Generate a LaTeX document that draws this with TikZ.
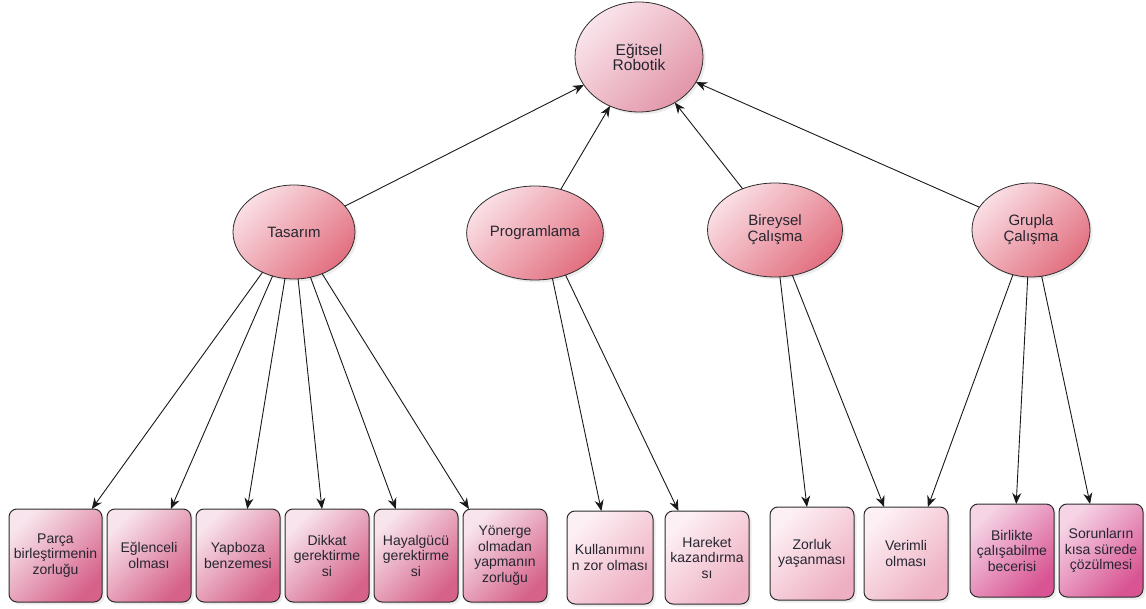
\documentclass[tikz,border=0pt]{standalone}
\usepackage{fontspec}
\setmainfont{Liberation Sans}
\usepackage{tikz}
\usetikzlibrary{positioning}
\usetikzlibrary{shapes.geometric,arrows.meta,calc,shadows}
\newcommand{\leafwidth}{84pt}
\newcommand{\leafheight}{93pt}
\newcommand{\topicheight}{94pt}
\definecolor{inkdark}{RGB}{38,38,48}
\definecolor{edgegray}{RGB}{45,45,45}
\definecolor{rootlight}{RGB}{250,228,235}
\definecolor{rootdark}{RGB}{226,150,168}
\definecolor{elllight}{RGB}{250,222,228}
\definecolor{elldark}{RGB}{226,112,128}
\definecolor{leaflight}{RGB}{248,228,236}
\definecolor{leafdark}{RGB}{214,98,138}
\definecolor{palelight}{RGB}{253,240,244}
\definecolor{paledark}{RGB}{238,175,194}
\definecolor{teamlight}{RGB}{246,212,230}
\definecolor{teamdark}{RGB}{216,84,146}

\begin{document}
\begin{tikzpicture}[x=1pt, y=-1pt, node distance=5pt, outer sep=0pt]
\tikzstyle{rootell}=[
    draw=edgegray,
    ellipse,
    line width=0.8pt,
    minimum width=128pt,
    minimum height=110pt,
    left color=rootlight,
    right color=rootdark,
    shading angle=45,
    drop shadow={opacity=0.15,shadow xshift=2.5pt,shadow yshift=-2.5pt},
    text=inkdark,
    align=center,
    font=\fontsize{15.5}{15}\selectfont]
\tikzstyle{topicell}=[
    draw=edgegray,
    ellipse,
    line width=0.8pt,
    minimum height=\topicheight,
    left color=elllight,
    right color=elldark,
    shading angle=45,
    drop shadow={opacity=0.15,shadow xshift=2.5pt,shadow yshift=-2.5pt},
    text=inkdark,
    align=center,
    font=\fontsize{15}{16}\selectfont]
\tikzstyle{leafbox}=[
    draw=edgegray,
    rectangle,
    rounded corners=8pt,
    line width=1pt,
    minimum height=\leafheight,
    minimum width=\leafwidth,
    inner sep=2pt,
    left color=leaflight,
    right color=leafdark,
    shading angle=45,
    drop shadow={opacity=0.15,shadow xshift=2.5pt,shadow yshift=-2.5pt},
    text=inkdark,
    align=center,
    font=\fontsize{14}{15.5}\selectfont,
    anchor=north west]
\tikzstyle{leafpale}=[
    leafbox,
    left color=palelight,
    right color=paledark,
    shading angle=45]
\tikzstyle{leafteam}=[
    leafbox,
    left color=teamlight,
    right color=teamdark,
    shading angle=45]
\tikzstyle{link}=[
    draw=black!90,
    line width=0.9pt,
    -{Stealth[length=11pt,width=9pt]}]
\useasboundingbox (0,0) rectangle (1146,609);

% ust seviye
\node[rootell] (root) at (639,57) {Eğitsel\\Robotik};

\node[topicell, minimum width=122pt] (tas) at (294,232) {Tasarım};
\node[topicell, minimum width=125pt] (prog) at (535,233) {Programlama};
\node[topicell, minimum width=135pt] (bir) at (775,230) {Bireysel\\Çalışma};
\node[topicell, minimum width=118pt] (grp) at (1031,230) {Grupla\\Çalışma};

% tasarim yapraklari
\node[leafbox, minimum width=93pt] (leaf0) at (9,509) {Parça\\birleştirmenin\\zorluğu};
\node[leafbox] (leaf1) [right = of leaf0] {Eğlenceli\\olması};
\node[leafbox] (leaf2) [right = of leaf1] {Yapboza\\benzemesi};
\node[leafbox] (leaf3) [right = of leaf2] {Dikkat\\gerektirme\\si};
\node[leafbox] (leaf4) [right = of leaf3] {Hayalgücü\\gerektirme\\si};
\node[leafbox] (leaf5) [right = of leaf4] {Yönerge\\olmadan\\yapmanın\\zorluğu};

% programlama yapraklari
\node[leafpale, minimum width=86pt] (leaf6) at (567,511) {Kullanımını\\n zor olması};
\node[leafpale] (leaf7) [right = 12pt of leaf6] {Hareket\\kazandırma\\sı};

% bireysel yapraklari
\node[leafpale] (leaf8) at (770,507) {Zorluk\\yaşanması};
\node[leafpale] (leaf9) [right = 10pt of leaf8] {Verimli\\olması};

% grup yapraklari
\node[leafteam] (leaf10) at (970,504) {Birlikte\\çalışabilme\\becerisi};
\node[leafteam] (leaf11) [right = of leaf10] {Sorunların\\kısa sürede\\çözülmesi};

% yukari oklar
\draw[link] (tas) -- (root);
\draw[link] (prog) -- (root);
\draw[link] (bir) -- (root);
\draw[link] (grp) -- (root);

% asagi oklar
\draw[link] (tas.-128) -- ($(leaf0.north west)!0.89!(leaf0.north east)$);
\draw[link] (tas.-116) -- ($(leaf1.north west)!0.76!(leaf1.north east)$);
\draw[link] (tas.-101) -- ($(leaf2.north west)!0.61!(leaf2.north east)$);
\draw[link] (tas.-85) -- ($(leaf3.north west)!0.44!(leaf3.north east)$);
\draw[link] (tas.-70) -- ($(leaf4.north west)!0.26!(leaf4.north east)$);
\draw[link] (tas.-56) -- ($(leaf5.north west)!0.07!(leaf5.north east)$);
\draw[link] (prog.-69) -- ($(leaf6.north west)!0.40!(leaf6.north east)$);
\draw[link] (prog.-54) -- ($(leaf7.north west)!0.16!(leaf7.north east)$);
\draw[link] (bir.-84) -- ($(leaf8.north west)!0.44!(leaf8.north east)$);
\draw[link] (bir.-69) -- ($(leaf9.north west)!0.24!(leaf9.north east)$);
\draw[link] (grp.-112) -- ($(leaf9.north west)!0.76!(leaf9.north east)$);
\draw[link] (grp.-94) -- ($(leaf10.north west)!0.55!(leaf10.north east)$);
\draw[link] (grp.-77) -- ($(leaf11.north west)!0.37!(leaf11.north east)$);

\end{tikzpicture}
\end{document}
